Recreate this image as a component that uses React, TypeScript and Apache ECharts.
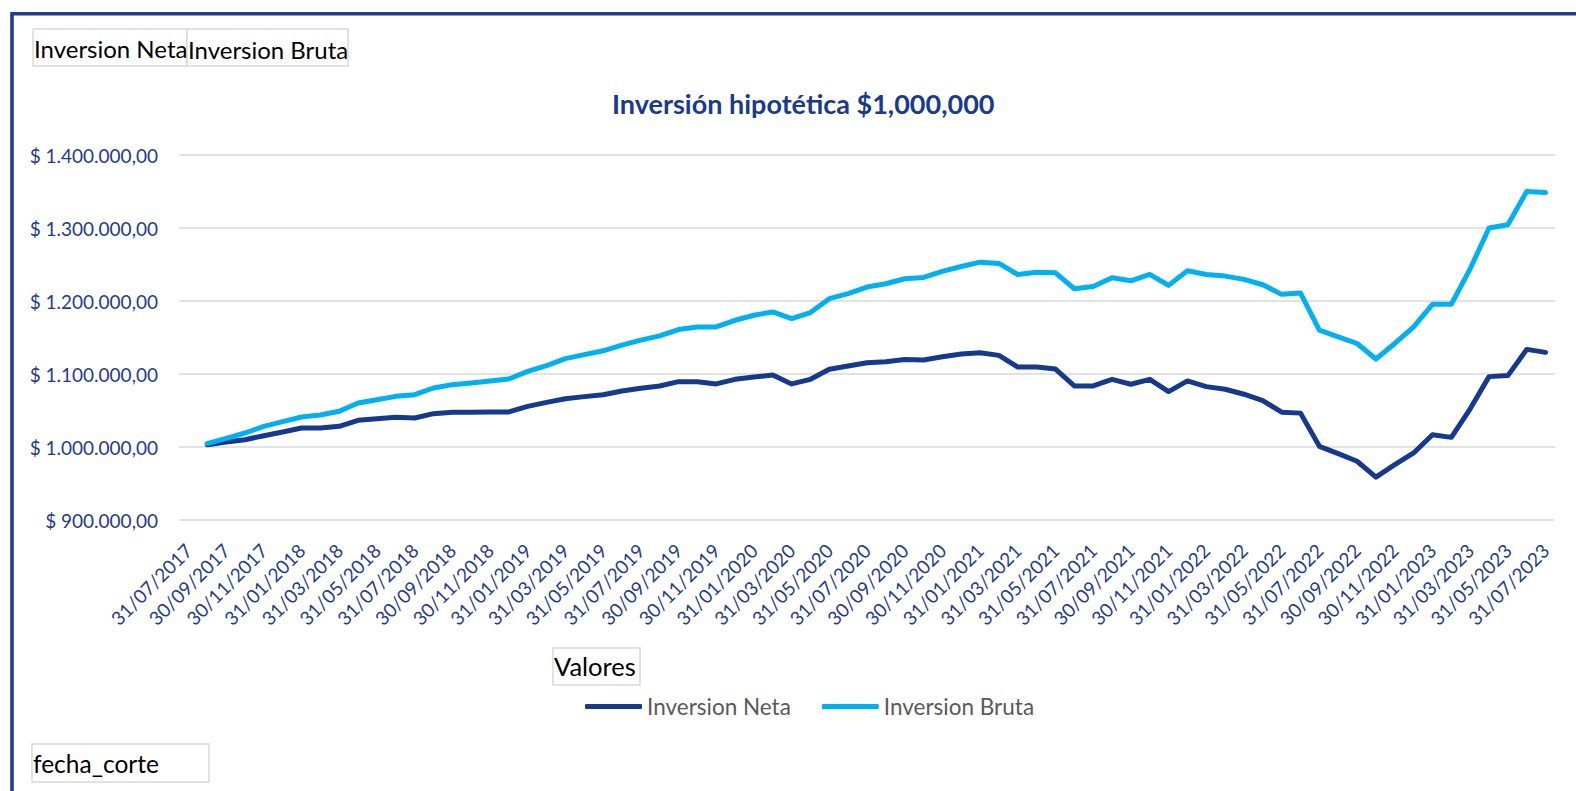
import React, { useEffect, useRef } from "react";
import * as echarts from "echarts";

const fechas = [
  "31/07/2017", "31/08/2017", "30/09/2017", "31/10/2017", "30/11/2017", "31/12/2017",
  "31/01/2018", "28/02/2018", "31/03/2018", "30/04/2018", "31/05/2018", "30/06/2018",
  "31/07/2018", "31/08/2018", "30/09/2018", "31/10/2018", "30/11/2018", "31/12/2018",
  "31/01/2019", "28/02/2019", "31/03/2019", "30/04/2019", "31/05/2019", "30/06/2019",
  "31/07/2019", "31/08/2019", "30/09/2019", "31/10/2019", "30/11/2019", "31/12/2019",
  "31/01/2020", "29/02/2020", "31/03/2020", "30/04/2020", "31/05/2020", "30/06/2020",
  "31/07/2020", "31/08/2020", "30/09/2020", "31/10/2020", "30/11/2020", "31/12/2020",
  "31/01/2021", "28/02/2021", "31/03/2021", "30/04/2021", "31/05/2021", "30/06/2021",
  "31/07/2021", "31/08/2021", "30/09/2021", "31/10/2021", "30/11/2021", "31/12/2021",
  "31/01/2022", "28/02/2022", "31/03/2022", "30/04/2022", "31/05/2022", "30/06/2022",
  "31/07/2022", "31/08/2022", "30/09/2022", "31/10/2022", "30/11/2022", "31/12/2022",
  "31/01/2023", "28/02/2023", "31/03/2023", "30/04/2023", "31/05/2023", "30/06/2023",
  "31/07/2023",
];

const inversionNeta: (number | null)[] = [
  null,
  1003200, 1006800, 1010000, 1015500, 1020500, 1026000, 1026000, 1028300, 1036500, 1038800,
  1040600, 1039700, 1045700, 1047500, 1047500, 1048000, 1048000, 1055700, 1061200, 1066200,
  1069000, 1071600,
  1076800, 1080500, 1083600, 1089500, 1089500, 1086400, 1092700, 1095900, 1098600, 1086400,
  1092700, 1106400, 1110900, 1115500, 1116800, 1120000, 1119100, 1123600, 1127300, 1129100,
  1125500, 1109500, 1109500,
  1106800, 1083700, 1083700, 1092700, 1086000, 1092700, 1075900, 1090500, 1082700, 1079100,
  1072300, 1063600, 1047700, 1046400, 1000900, 990900, 980500, 958700, 975900, 991800,
  1016800, 1013200, 1052300, 1096400, 1097800, 1133700, 1129600,
];

const inversionBruta: (number | null)[] = [
  null,
  1004600, 1011900, 1019200, 1028300, 1034700, 1041100, 1043800, 1048900, 1060300, 1064800,
  1069400, 1071700, 1080800, 1085400, 1087700, 1090400, 1093100, 1103600, 1111400, 1121000,
  1126500, 1131800,
  1139600, 1146400, 1152300, 1160900, 1164500, 1164500, 1173600, 1180500, 1185000, 1175900,
  1184100, 1203200, 1210000, 1219100, 1223600, 1230500, 1232300, 1240500, 1247300, 1253200,
  1251500, 1236200, 1239500,
  1238600, 1216800, 1220000, 1231800, 1227700, 1236400, 1221400, 1241400, 1236400, 1234100,
  1229600, 1222300, 1209100, 1210900, 1160000, 1150900, 1141800, 1120500, 1141800, 1164500,
  1195500, 1195500, 1244100, 1300000, 1304500, 1350000, 1348600,
];

const seriesNames = ["Inversion Neta", "Inversion Bruta"];
const titulo = "Inversión hipotética $1,000,000";
const yMin = 900000;
const yMax = 1400000;
const yStep = 100000;

const NAVY = "#15398C";
const CYAN = "#00B0F0";
const LABEL_BLUE = "#1F3C8C";
const FONT = "Lato";

function fmtPeso(v: number): string {
  const s = Math.round(v)
    .toString()
    .replace(/\B(?=(\d{3})+(?!\d))/g, ".");
  return "$ " + s + ",00";
}

function box(x: number, y: number, w: number, h: number) {
  return {
    type: "rect",
    shape: { x, y, width: w, height: h },
    style: { fill: "#ffffff", stroke: "#D9D9D9", lineWidth: 1.5 },
    silent: true,
  };
}

function label(text: string, x: number, y: number, size: number) {
  return {
    type: "text",
    x,
    y,
    style: {
      text,
      fill: "#000000",
      font: `${size}px ${FONT}`,
      textVerticalAlign: "middle",
      verticalAlign: "middle",
    },
    silent: true,
    z: 10,
  };
}

export default function App() {
  const ref = useRef<HTMLDivElement>(null);

  useEffect(() => {
    if (!ref.current) return;
    const chart = echarts.init(ref.current, null, { renderer: "svg" });
    chart.setOption({
      animation: false,
      backgroundColor: "#ffffff",
      title: {
        text: titulo,
        left: 612,
        top: 90,
        padding: 0,
        textStyle: {
          fontFamily: FONT,
          fontSize: 27,
          fontWeight: "bold",
          color: "#1A3A8A",
        },
      },
      legend: {
        left: 580,
        top: 690,
        itemWidth: 57,
        itemHeight: 5,
        itemGap: 31,
        icon: "roundRect",
        data: seriesNames,
        textStyle: { fontFamily: FONT, fontSize: 22.5, color: "#595959" },
      },
      grid: { left: 179, right: 21, top: 155, bottom: 271, containLabel: false },
      xAxis: {
        type: "category",
        data: fechas,
        boundaryGap: true,
        axisLine: { show: false },
        axisTick: { show: false },
        splitLine: { show: false },
        axisLabel: {
          interval: (i: number) => i % 2 === 0,
          rotate: 45,
          margin: 27,
          color: LABEL_BLUE,
          fontFamily: FONT,
          fontSize: 19,
        },
      },
      yAxis: {
        type: "value",
        min: yMin,
        max: yMax,
        interval: yStep,
        axisLine: { show: false },
        axisTick: { show: false },
        axisLabel: {
          formatter: (v: number) => fmtPeso(v),
          margin: 21,
          color: LABEL_BLUE,
          fontFamily: FONT,
          fontSize: 19,
        },
        splitLine: { lineStyle: { color: "#D9D9D9", width: 1.5 } },
      },
      series: [
        {
          name: seriesNames[0],
          type: "line",
          data: inversionNeta,
          showSymbol: false,
          color: NAVY,
          lineStyle: { width: 5, color: NAVY, cap: "round", join: "round" },
        },
        {
          name: seriesNames[1],
          type: "line",
          data: inversionBruta,
          showSymbol: false,
          color: CYAN,
          lineStyle: { width: 5, color: CYAN, cap: "round", join: "round" },
        },
      ],
      graphic: [
        {
          type: "polyline",
          shape: { points: [[12, 820], [12, 13.8], [1600, 13.8]] },
          style: { fill: "none", stroke: "#1E3E8F", lineWidth: 3.6 },
          silent: true,
        },
        box(33, 29, 154, 37),
        box(187, 29, 161, 37),
        label("Inversion Neta", 34, 48, 24),
        label("Inversion Bruta", 188, 49, 24),
        box(553, 648, 87, 37),
        label("Valores", 554, 666, 25.5),
        box(32, 744, 177, 38),
        label("fecha_corte", 33, 763, 24.5),
      ],
    });
    return () => chart.dispose();
  }, []);

  return (
    <div
      ref={ref}
      style={{ position: "fixed", left: 0, top: 0, width: 1576, height: 791, background: "#fff" }}
    />
  );
}
